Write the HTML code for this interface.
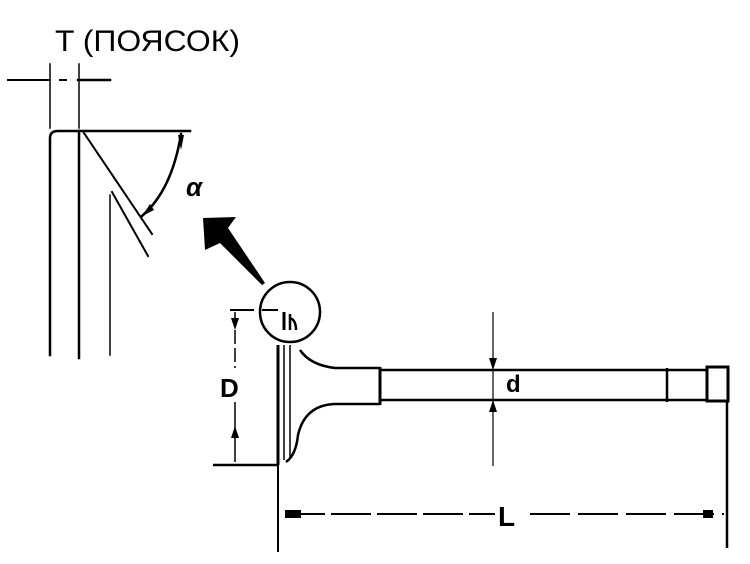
<!DOCTYPE html>
<html><head><meta charset="utf-8"><style>
html,body{margin:0;padding:0;background:#fff;}
svg{display:block}
text{font-family:"Liberation Sans",sans-serif;fill:#000}
</style></head><body>
<svg width="750" height="564" viewBox="0 0 750 564" xmlns="http://www.w3.org/2000/svg">
<g stroke="#000" fill="none" stroke-linecap="square">
<line x1="8" y1="80" x2="50" y2="80" stroke-width="2"/>
<line x1="60" y1="80" x2="66" y2="80" stroke-width="2"/>
<line x1="78" y1="80" x2="110" y2="80" stroke-width="2.5"/>
<line x1="50" y1="64" x2="50" y2="128" stroke-width="1.5"/>
<line x1="79" y1="64" x2="79" y2="128" stroke-width="1.5"/>
<path d="M50 355 L50 138 Q50 131 58 131 L190 131" stroke-width="2.5"/>
<line x1="79" y1="131" x2="79" y2="358" stroke-width="2.5"/>
<line x1="110" y1="195" x2="110" y2="355" stroke-width="1.5"/>
<line x1="84" y1="133" x2="152" y2="234" stroke-width="2"/>
<line x1="112" y1="192" x2="148" y2="256" stroke-width="2"/>
<path d="M181 134 Q172 190 142 216" stroke-width="2.5"/>
</g>
<polygon points="178,135 184,135 181,150" fill="#000"/>
<polygon points="142,216 150,204 154,210" fill="#000"/>
<text x="55" y="51" font-size="30" textLength="185" lengthAdjust="spacingAndGlyphs">T (ПОЯСОК)</text>
<text x="186" y="196" font-size="26" font-weight="bold" font-style="italic">α</text>
<polygon points="203,218 236,217 228,228 265,283 262,285 220,243 205,250" fill="#000"/>
<g stroke="#000" fill="none">
<circle cx="290" cy="312" r="30" stroke-width="2.5"/>
<line x1="262" y1="310" x2="278" y2="310" stroke-width="2"/>
<line x1="284" y1="312" x2="284" y2="330" stroke-width="3"/>
<path d="M290 314 L290 330 M290 318 Q296 320 296 330" stroke-width="2.5"/>
<line x1="278" y1="345" x2="278" y2="465" stroke-width="3"/>
<line x1="284" y1="345" x2="284" y2="460" stroke-width="1.5"/>
<line x1="290" y1="345" x2="290" y2="458" stroke-width="1.5"/>
<path d="M300 350 Q310 365 335 368 L380 368" stroke-width="2.5"/>
<path d="M286 462 Q296 455 298 435 Q305 405 335 404 L380 404" stroke-width="2.5"/>
<line x1="380" y1="367" x2="380" y2="405" stroke-width="3"/>
<line x1="380" y1="370" x2="708" y2="370" stroke-width="2.5"/>
<line x1="380" y1="400" x2="708" y2="400" stroke-width="2.5"/>
<line x1="667" y1="368" x2="667" y2="402" stroke-width="2.5"/>
<rect x="707" y="367" width="21" height="34" stroke-width="3"/>
<line x1="213" y1="465" x2="278" y2="465" stroke-width="2.5"/>
<line x1="230" y1="310" x2="254" y2="310" stroke-width="2"/>
<line x1="235" y1="312" x2="235" y2="368" stroke-width="1.5" stroke-dasharray="14 4"/>
<line x1="235" y1="402" x2="235" y2="462" stroke-width="1.5"/>
<line x1="493" y1="312" x2="493" y2="466" stroke-width="1.2"/>
<line x1="278" y1="465" x2="278" y2="552" stroke-width="2"/>
<line x1="727" y1="400" x2="727" y2="548" stroke-width="2.5"/>
<line x1="285" y1="514" x2="495" y2="514" stroke-width="2" stroke-dasharray="40 6"/>
<line x1="530" y1="514" x2="724" y2="514" stroke-width="2" stroke-dasharray="40 8"/>
</g>
<g fill="#000">
<polygon points="231,318 239,318 235,330"/>
<polygon points="231,438 239,438 235,426"/>
<polygon points="489,358 497,358 493,370"/>
<polygon points="489,412 497,412 493,400"/>
<rect x="285" y="510" width="16" height="8"/>
<rect x="703" y="510" width="10" height="8"/>
</g>
<text x="220" y="397" font-size="26" font-weight="bold">D</text>
<text x="506" y="392" font-size="24" font-weight="bold">d</text>
<text x="498" y="526" font-size="28" font-weight="bold">L</text>
</svg>
</body></html>
